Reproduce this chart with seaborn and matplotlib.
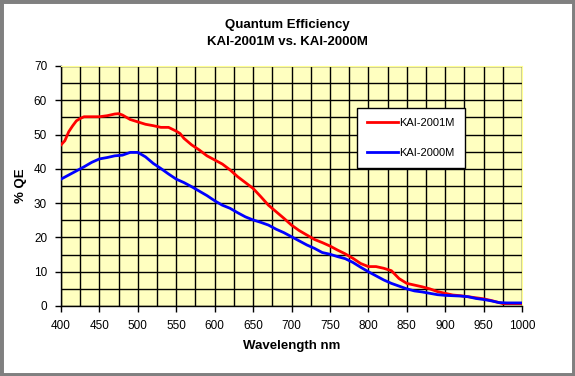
import numpy as np
import pandas as pd
import matplotlib
matplotlib.use("Agg")
import matplotlib.pyplot as plt
from matplotlib.patches import Rectangle
import seaborn as sns

# wavelength (nm) and QE (%)
wl_2001 = [400, 405, 410, 415, 420, 425, 430, 440, 450, 460, 470, 475, 480, 490,
           500, 510, 520, 530, 540, 550, 555, 560, 570, 580, 590, 600, 610, 620,
           630, 640, 650, 660, 670, 680, 690, 700, 710, 720, 730, 740, 750, 760,
           770, 780, 790, 800, 810, 820, 830, 840, 850, 860, 870, 880, 890, 900,
           910, 920, 930, 940, 950, 960, 970, 975, 980, 990, 1000]
qe_2001 = [47.0, 48.2, 50.8, 52.5, 54.0, 54.7, 55.2, 55.2, 55.2, 55.5, 56.0, 56.1, 55.7, 54.4,
           53.7, 53.0, 52.6, 52.1, 52.1, 51.0, 50.3, 48.9, 47.0, 45.5, 43.8, 42.6, 41.4, 39.7,
           37.7, 36.0, 34.3, 31.9, 29.4, 27.5, 25.6, 23.6, 22.0, 20.7, 19.4, 18.5, 17.5, 16.3,
           15.2, 13.9, 12.4, 11.5, 11.5, 11.0, 10.3, 8.0, 6.6, 6.1, 5.6, 5.0, 4.2, 3.7,
           3.2, 3.0, 2.7, 2.4, 2.1, 1.6, 1.0, 0.7, 0.7, 0.7, 0.7]

wl_2000 = [400, 410, 420, 430, 440, 450, 460, 470, 480, 490, 500, 510, 520, 530,
           540, 550, 560, 570, 580, 590, 600, 610, 620, 630, 640, 650, 660, 670,
           680, 690, 700, 710, 720, 730, 740, 750, 760, 770, 780, 790, 800, 810,
           820, 830, 840, 850, 860, 870, 880, 890, 900, 920, 930, 940, 950, 960,
           970, 980, 1000]
qe_2000 = [37.0, 38.2, 39.4, 40.6, 41.9, 42.9, 43.3, 43.8, 44.0, 44.8, 44.8, 43.5, 41.6, 40.1,
           38.5, 37.0, 36.0, 34.8, 33.5, 32.2, 30.7, 29.4, 28.5, 27.2, 26.0, 25.1, 24.4, 23.6,
           22.4, 21.4, 20.2, 19.0, 17.8, 16.8, 15.6, 15.1, 14.4, 13.8, 12.7, 11.3, 10.0, 8.8,
           7.6, 6.6, 5.8, 5.0, 4.4, 4.1, 3.7, 3.3, 3.1, 2.9, 2.7, 2.2, 1.9, 1.5,
           1.0, 0.9, 0.9]

df = pd.concat([
    pd.DataFrame({"wl": wl_2001, "qe": qe_2001, "sensor": "KAI-2001M"}),
    pd.DataFrame({"wl": wl_2000, "qe": qe_2000, "sensor": "KAI-2000M"}),
])

plt.rcParams["font.family"] = ["Liberation Sans", "DejaVu Sans"]

fig = plt.figure(figsize=(5.75, 3.76), dpi=100)
fig.patch.set_facecolor("white")
ax = fig.add_axes([61 / 575, 1 - 306 / 376, 461 / 575, 240 / 376])
ax.set_facecolor("#FFFFC0")

sns.lineplot(data=df, x="wl", y="qe", hue="sensor", palette={"KAI-2001M": "#FF0000", "KAI-2000M": "#0000FF"},
             linewidth=2.0, ax=ax, legend=False, zorder=3, sort=False, estimator=None)

ax.set_xlim(400, 1000)
ax.set_ylim(0, 70)
ax.set_xticks(np.arange(400, 1001, 50))
ax.set_xticks(np.arange(425, 1000, 50), minor=True)
ax.set_yticks(np.arange(0, 71, 10))
ax.set_yticks(np.arange(5, 70, 10), minor=True)
ax.grid(True, which="both", color="black", linewidth=1.0, zorder=1)
ax.set_axisbelow(True)
ax.tick_params(which="major", length=4, width=1, color="black", labelsize=8.5, pad=6)
ax.tick_params(which="minor", length=0)
for s in ["top", "right"]:
    ax.spines[s].set_color("#FFFF90")
for s in ["left", "bottom"]:
    ax.spines[s].set_color("black")
    ax.spines[s].set_linewidth(1.0)

ax.set_xlabel("Wavelength nm", fontsize=9.5, fontweight="bold", labelpad=6)
ax.set_ylabel("% QE", fontsize=9.5, fontweight="bold", labelpad=5)

fig.text(0.5, 1 - 25 / 376, "Quantum Efficiency", ha="center", va="center", fontsize=9.5, fontweight="bold")
fig.text(0.5, 1 - 42 / 376, "KAI-2001M vs. KAI-2000M", ha="center", va="center", fontsize=9.5, fontweight="bold")

# legend box
ax.plot([], [], color="#FF0000", lw=2.0, label="KAI-2001M")
ax.plot([], [], color="#0000FF", lw=2.0, label="KAI-2000M")
leg = ax.legend(loc="upper left", bbox_to_anchor=((357 - 61) / 461, (306 - 108) / 240), fancybox=False,
                framealpha=1, edgecolor="black", fontsize=8, handlelength=2.8, handletextpad=0.1,
                labelspacing=1.8, borderpad=0.9, borderaxespad=0)
leg.get_frame().set_linewidth(1.0)

# outer frame
fig.patches.append(Rectangle((0, 0), 1, 1, transform=fig.transFigure, fill=False,
                             edgecolor="#808080", linewidth=5, zorder=10))
fig.add_artist(plt.Line2D([0, 1], [0.5 / 376, 0.5 / 376], transform=fig.transFigure, color="black", lw=1))
fig.add_artist(plt.Line2D([1 - 0.5 / 575, 1 - 0.5 / 575], [0, 1], transform=fig.transFigure, color="black", lw=1))

fig.savefig("out.png", dpi=100)
